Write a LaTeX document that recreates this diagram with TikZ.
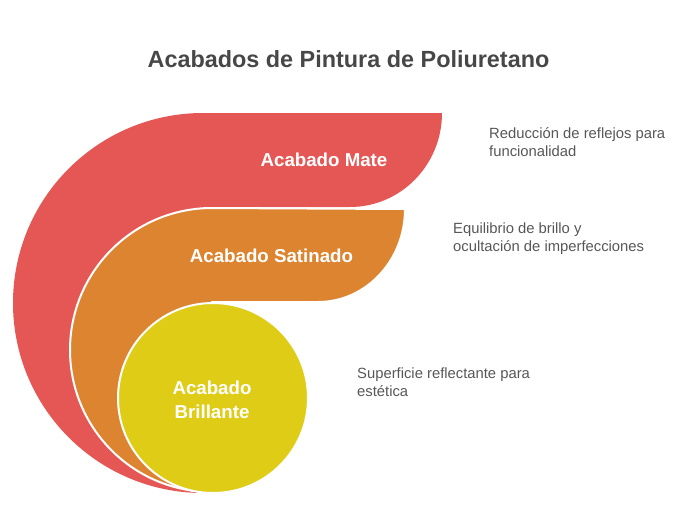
\documentclass[tikz,border=0pt]{standalone}
\usepackage{fontspec}
\setmainfont{Liberation Sans}
\definecolor{mate}{HTML}{E55754}
\definecolor{satin}{HTML}{DD8430}
\definecolor{gloss}{HTML}{DFCC16}
\definecolor{ink}{HTML}{474747}
\definecolor{note}{HTML}{575757}
\tikzset{
	band/.style={draw=white,line width=2pt},
	lbl/.style={text=white,font=\bfseries\fontsize{18.7}{24}\selectfont,inner sep=0pt,align=center,anchor=base},
	desc/.style={text=note,font=\fontsize{14.8}{18}\selectfont,inner sep=0pt,align=left,anchor=base west}
}

\begin{document}
\begin{tikzpicture}[x=1pt,y=-1pt]
	\useasboundingbox (0,0) rectangle (696,507);
	\node [font=\bfseries\fontsize{23.4}{28}\selectfont,text=ink,anchor=base] (title) at (348.5,67.5) {Acabados de Pintura de Poliuretano};

	% bands, outer to inner
	\fill [mate] (442,113) arc[start angle=0,end angle=90,x radius=92,y radius=94] -- (203,207) -- (203,493) arc[start angle=90,end angle=270,radius=190] -- cycle;
	\filldraw [band,fill=satin] (405,209) arc[start angle=0,end angle=90,x radius=87,y radius=93] -- (212,302) -- (212,492) arc[start angle=90,end angle=270,radius=142] -- cycle;
	\filldraw [band,fill=gloss] (213,398) circle[radius=95];

	\node [lbl] (matetxt) at (324,166.7) {Acabado Mate};
	\node [lbl] (satintxt) at (271.5,262.7) {Acabado Satinado};
	\node [lbl] (glosstxt) at (212,418.7) {Acabado\\Brillante};

	\node [desc] (matenote) at (489,156) {Reducción de reflejos para\\funcionalidad};
	\node [desc] (satinnote) at (453,251.7) {Equilibrio de brillo y\\ocultación de imperfecciones};
	\node [desc] (glossnote) at (357,396) {Superficie reflectante para\\estética};
\end{tikzpicture}
\end{document}
